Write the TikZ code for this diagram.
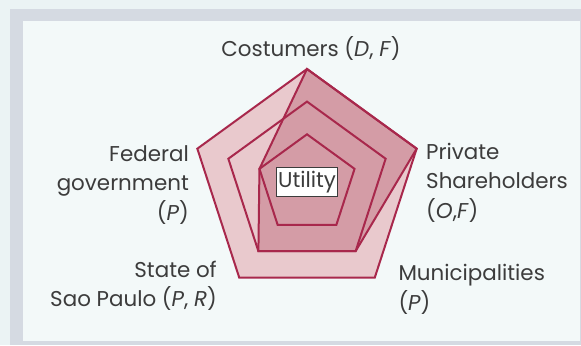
\documentclass[tikz,border=0pt]{standalone}
\usepackage{fontspec}
\setmainfont{Poppins}
\usetikzlibrary{positioning}
\definecolor{outerbg}{HTML}{EBF3F4}
\definecolor{band}{HTML}{D5DAE2}
\definecolor{panel}{HTML}{F3F9F9}
\definecolor{crimson}{HTML}{A8284C}
\definecolor{lightpink}{HTML}{E9C9CD}
\definecolor{darkpink}{HTML}{D49CA6}
\definecolor{ink}{HTML}{3C3C3C}

\begin{document}
\begin{tikzpicture}[x=1bp,y=1bp,
  ring/.style={draw=crimson,line width=2bp,line join=miter},
  lbl/.style={font=\fontsize{21.5}{29.5}\selectfont,text=ink,inner sep=0pt}]
\fill[outerbg] (0,0) rectangle (581,345);
\fill[band] (10,0) rectangle (581,336);
\fill[panel] (23,4) rectangle (580,324);
\begin{scope}[shift={(307,160.7)}]
\coordinate (cost) at (90:115.3);
\coordinate (priv) at (18:115.3);
\coordinate (muni) at (-54:82.7);
\coordinate (state) at (-126:82.7);
\coordinate (fed) at (162:50);
\fill[lightpink] (90:115.3) -- (18:115.3) -- (-54:115.3) -- (-126:115.3) -- (162:115.3) -- cycle;
\fill[darkpink] (cost) -- (priv) -- (muni) -- (state) -- (fed) -- cycle;
\foreach \r in {50,82.7,115.3}
  \draw[ring] (90:\r) -- (18:\r) -- (-54:\r) -- (-126:\r) -- (162:\r) -- cycle;
\draw[ring] (cost) -- (priv) -- (muni) -- (state) -- (fed) -- cycle;
\node[lbl,draw=ink,fill=white,line width=0.8bp,minimum width=61bp,minimum height=29bp] (util) at (0,2.3) {Utility};
\end{scope}
\node[lbl,anchor=base] (costlbl) at (311,288.3) {Costumers (\textit{D}, \textit{F})};
\node[lbl,anchor=base east,align=right] (fedlbl) at (189,125) {Federal\\government\\(\textit{P})};
\node[lbl,anchor=base east,align=right] (statelbl) at (217,38.3) {State of\\Sao Paulo (\textit{P}, \textit{R})};
\node[lbl,anchor=base west,align=left] (privlbl) at (426,126.7) {Private\\Shareholders\\(\textit{O},\textit{F})};
\node[lbl,anchor=base west,align=left] (munilbl) at (398.3,35) {Municipalities\\(\textit{P})};
\end{tikzpicture}
\end{document}
